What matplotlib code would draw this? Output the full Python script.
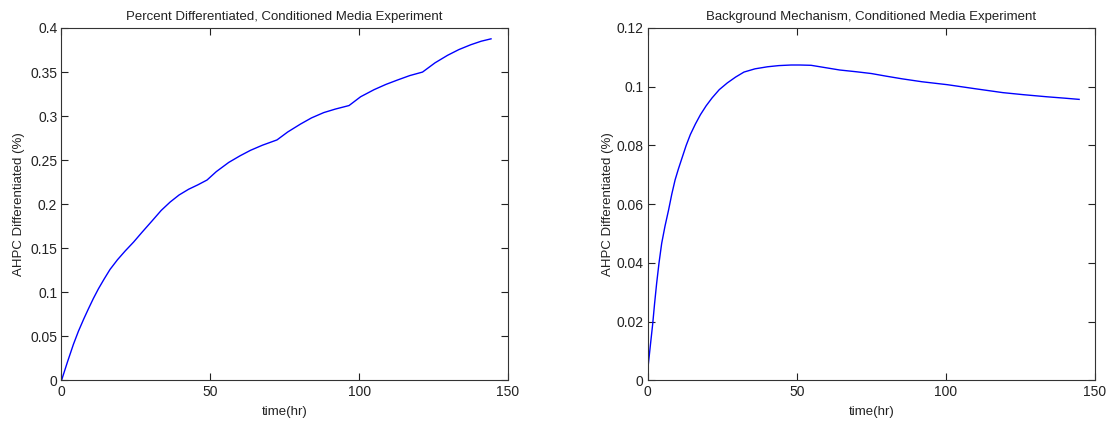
#!/usr/bin/env python3
# -*- coding: utf-8 -*-

import numpy as np
from matplotlib import pyplot as plt

# values
# left panel: percent differentiated (kinks at each 24 hr media change)
t_pct = [0, 2.0, 4.0, 5.7, 7.5, 9.0, 10.7, 12.4, 14.3, 16.3, 18.8, 21.4, 24.2,
         27.0, 30.4, 33.5, 36.5, 39.5, 42.7, 45.8, 48.9, 52.0, 56.2, 60.0,
         63.5, 67.5, 72.4, 76.0, 80.3, 84.0, 88.1, 92.0, 96.6, 100.5, 105.0,
         109.0, 112.9, 117.0, 121.3, 125.5, 129.7, 133.5, 137.5, 141.0, 144.3]
pct_diff = [0, 0.021, 0.041, 0.056, 0.070, 0.081, 0.093, 0.104, 0.115,
            0.126, 0.137, 0.147, 0.157, 0.168, 0.181, 0.193, 0.2025, 0.2105,
            0.217, 0.222, 0.2275, 0.237, 0.2475, 0.255, 0.2612, 0.267, 0.273,
            0.282, 0.291, 0.298, 0.304, 0.308, 0.312, 0.322, 0.330, 0.336,
            0.341, 0.346, 0.350, 0.3605, 0.369, 0.3755, 0.381, 0.385, 0.3877]

# right panel: background mechanism
t_bg = [0, 0.8, 1.7, 2.3, 3.0, 3.8, 4.7, 5.8, 7.0, 8.1, 9.2, 10.3, 11.5, 12.9,
        14.3, 16.0, 17.7, 19.6, 21.6, 24.0, 26.7, 29.5, 32.3, 36.0, 40.2,
        44.0, 48.1, 51.0, 54.8, 59.0, 64.4, 70.0, 75.0, 80.0, 85.3, 92.0,
        100.5, 110.0, 119.1, 126.0, 133.7, 140.0, 144.7]
bg_diff = [0.0034, 0.011, 0.0194, 0.026, 0.033, 0.040, 0.0467, 0.0525, 0.058,
           0.0635, 0.0683, 0.072, 0.0757, 0.080, 0.0837, 0.0873, 0.0905,
           0.0935, 0.0962, 0.099, 0.1013, 0.1033, 0.105, 0.1061, 0.1068,
           0.1072, 0.1074, 0.1074, 0.1073, 0.1066, 0.1057, 0.1051, 0.1045,
           0.1036, 0.1027, 0.1017, 0.1007, 0.0993, 0.098, 0.0973, 0.0966,
           0.0961, 0.0957]

titles = ["Percent Differentiated, Conditioned Media Experiment",
          "Background Mechanism, Conditioned Media Experiment"]
x_ticks = [0, 50, 100, 150]
y_ticks_left = [0, 0.05, 0.1, 0.15, 0.2, 0.25, 0.3, 0.35, 0.4]
y_tick_labels_left = ["0", "0.05", "0.1", "0.15", "0.2", "0.25", "0.3", "0.35", "0.4"]
y_ticks_right = [0, 0.02, 0.04, 0.06, 0.08, 0.1, 0.12]
y_tick_labels_right = ["0", "0.02", "0.04", "0.06", "0.08", "0.1", "0.12"]


def style_axis(ax, title, yticks, ylabels, ymax, ypad):
    ax.set_xlim(0, 150)
    ax.set_ylim(0, ymax)
    ax.set_xticks(x_ticks)
    ax.set_xticklabels([str(v) for v in x_ticks])
    ax.set_yticks(yticks)
    ax.set_yticklabels(ylabels)
    ax.tick_params(direction='in', top=True, right=True, length=5, width=0.8,
                   labelsize=10, pad=3, labelcolor='#222222', color='#222222')
    for s in ax.spines.values():
        s.set_linewidth(0.8)
        s.set_color('#333333')
    ax.set_title(title, fontsize=9.5, pad=6, color='#222222')
    ax.set_xlabel("time(hr)", fontsize=9.5, labelpad=5, color='#222222')
    ax.set_ylabel("AHPC Differentiated (%)", fontsize=9.5, labelpad=ypad,
                  color='#222222')


def main():
    plt.rcParams['font.family'] = ['Liberation Sans', 'DejaVu Sans']
    fig = plt.figure(figsize=(11.06, 4.21), dpi=100)
    ax1 = fig.add_axes([0.0556, 0.0962, 0.4037, 0.8373])
    ax2 = fig.add_axes([0.5856, 0.0962, 0.4044, 0.8373])

    ax1.plot(t_pct, pct_diff, color='#0000ff', lw=1.0)
    ax2.plot(t_bg, bg_diff, color='#0000ff', lw=1.0)

    style_axis(ax1, titles[0], y_ticks_left, y_tick_labels_left, 0.4, 4)
    style_axis(ax2, titles[1], y_ticks_right, y_tick_labels_right, 0.12, 1.5)

    fig.savefig("out.png", dpi=100)


if __name__ == "__main__":
    main()
